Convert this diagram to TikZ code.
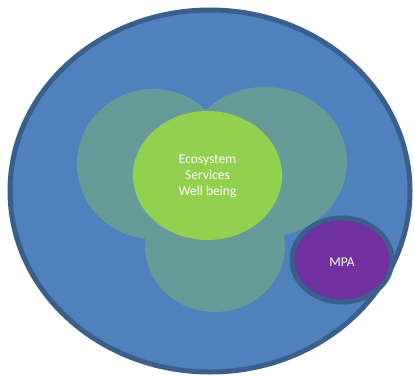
\documentclass[tikz,border=0pt]{standalone}
\usepackage{fontspec}
\setmainfont{Carlito}
\usetikzlibrary{shapes.geometric}
\definecolor{bigblue}{HTML}{4F81BD}
\definecolor{edgeblue}{HTML}{3A5F8B}
\definecolor{tealgreen}{HTML}{669B98}
\definecolor{lgreen}{HTML}{92D050}
\definecolor{purp}{HTML}{7030A0}
\tikzset{
  bubble/.style={fill=tealgreen, draw=none},
  lbl/.style={text=white, font=\fontsize{13.5}{16}\selectfont, align=center}
}
\begin{document}
\begin{tikzpicture}[x=1pt,y=-1pt]
\useasboundingbox (0,0) rectangle (414,377);
\fill[bigblue, draw=edgeblue, line width=5pt] (210,191) ellipse [x radius=200, y radius=181];
\fill[bubble] (215,246) ellipse [x radius=70, y radius=66];
\fill[bubble] (153,164) ellipse [x radius=76, y radius=75];
\fill[bubble] (265,162) ellipse [x radius=82, y radius=75];
\node[ellipse, fill=lgreen, minimum width=149pt, minimum height=129pt, inner sep=0pt] (core) at (207.5,175.5) {};
\node[lbl] (coretext) at (207.5,176) {Ecosystem\\Services\\Well being};
\draw[fill=purp, draw=edgeblue, line width=5pt] (342,260) ellipse [x radius=50, y radius=42];
\node[lbl] (mpa) at (342,262) {MPA};
\end{tikzpicture}
\end{document}
